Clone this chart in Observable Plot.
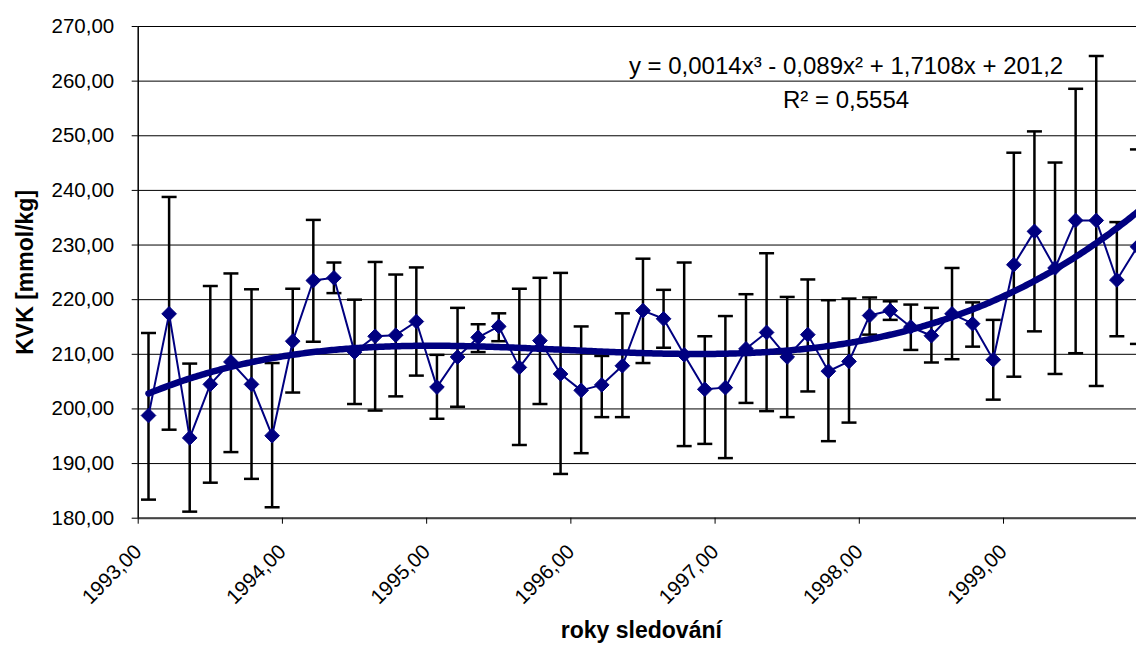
<!DOCTYPE html>
<html><head><meta charset="utf-8">
<script src="https://cdn.jsdelivr.net/npm/d3@7"></script>
<script src="https://cdn.jsdelivr.net/npm/@observablehq/plot@0.6"></script>
<style>
html,body{margin:0;padding:0;background:#fff;}
#chart svg{display:block;}
</style>
</head><body><div id="chart"></div>
<script>
// ---- data ----
const means = [198.8, 217.4, 194.7, 204.5, 208.6, 204.5, 195.1, 212.4, 223.5, 224.0,
               210.4, 213.3, 213.5, 216.0, 204.0, 209.5, 213.1, 215.1, 207.6, 212.5,
               206.4, 203.4, 204.4, 207.9, 218.0, 216.5, 209.9, 203.6, 203.9, 211.0,
               214.0, 209.5, 213.6, 206.9, 208.7, 217.1, 218.0, 215.0, 213.4, 217.4,
               215.6, 209.0, 226.4, 232.5, 225.8, 234.5, 234.5, 223.6, 229.7];
const upper = [213.9, 238.8, 208.3, 222.5, 224.8, 221.9, 208.4, 222.0, 234.6, 226.8,
               220.0, 226.9, 224.6, 225.9, 209.9, 218.5, 215.5, 217.5, 222.0, 224.0,
               224.9, 215.1, 209.7, 217.5, 227.5, 221.8, 226.8, 213.3, 217.0, 221.0,
               228.5, 220.5, 223.7, 219.9, 220.2, 220.4, 219.7, 219.1, 218.5, 225.8,
               219.5, 216.3, 246.9, 250.8, 245.1, 258.6, 264.6, 234.2, 247.5];
const lower = [183.4, 196.2, 181.2, 186.5, 192.1, 187.2, 182.0, 203.0, 212.3, 221.2,
               200.9, 199.7, 202.3, 206.1, 198.2, 200.4, 210.4, 212.4, 193.4, 200.9,
               188.1, 191.9, 198.5, 198.5, 208.4, 211.2, 193.2, 193.6, 191.0, 201.1,
               199.6, 198.5, 203.2, 194.1, 197.5, 213.6, 216.3, 210.8, 208.5, 209.1,
               211.4, 201.7, 205.9, 214.2, 206.4, 210.2, 204.2, 213.3, 211.9];
const samplesPerYear = 7;
const startYear = 1993;
const xTickYears = [1993, 1994, 1995, 1996, 1997, 1998, 1999];
const yTicks = [180, 190, 200, 210, 220, 230, 240, 250, 260, 270];
// trendline shown in the chart: y = 0,0014x^3 - 0,089x^2 + 1,7108x + 201,2 (x = sample number)
const trendCoef = [0.0014, -0.089, 1.7108, 201.2];
const equationText = "y = 0,0014x³ - 0,089x² + 1,7108x + 201,2";
const r2Text = "R² = 0,5554";
const yTitle = "KVK [mmol/kg]";
const xTitle = "roky sledování";

// ---- build tables ----
const toYear = i => startYear + (i - 0.5) / samplesPerYear;
const data = means.map((m, k) => ({n: k + 1, x: toYear(k + 1), mean: m, hi: upper[k], lo: lower[k]}));
const trend = d3.range(1, means.length + 0.6, 0.1).map(n => ({
  x: toYear(n),
  y: trendCoef[0] * n ** 3 + trendCoef[1] * n ** 2 + trendCoef[2] * n + trendCoef[3]
}));
const fmt = v => v.toFixed(2).replace(".", ",");

const capSymbol = {
  draw(ctx, size) {
    const w = Math.sqrt(size / Math.PI);
    ctx.moveTo(-w, 0);
    ctx.lineTo(w, 0);
  }
};
const navy = "#000080";

const chart = Plot.plot({
  width: 1136,
  height: 645,
  marginTop: 26,
  marginBottom: 127.3,
  marginLeft: 137.7,
  marginRight: 0,
  style: {fontFamily: "'Liberation Sans', Arial, sans-serif", background: "#fff", color: "#000"},
  x: {domain: [1993, 1999.922], label: null},
  y: {domain: [180, 270], label: null},
  marks: [
    Plot.gridY(yTicks, {stroke: "#000", strokeOpacity: 1, strokeWidth: 1}),
    Plot.ruleY([180], {stroke: "#444", strokeWidth: 2}),
    Plot.ruleX([1993], {y1: 180, y2: 270, stroke: "#000", strokeWidth: 1.5}),
    Plot.axisY({ticks: yTicks, tickFormat: fmt, tickSize: 6, tickPadding: 18, fontSize: 20.5, label: null, stroke: "#000"}),
    Plot.axisX({ticks: xTickYears, tickFormat: fmt, tickSize: 6, tickPadding: 24, tickRotate: -45, fontSize: 20.5, label: null, stroke: "#000"}),
    Plot.ruleX(data, {x: "x", y1: "lo", y2: "hi", stroke: "#000", strokeWidth: 2.5}),
    Plot.dot(data, {x: "x", y: "hi", symbol: capSymbol, r: 7.5, stroke: "#000", strokeWidth: 2.5}),
    Plot.dot(data, {x: "x", y: "lo", symbol: capSymbol, r: 7.5, stroke: "#000", strokeWidth: 2.5}),
    Plot.line(trend, {x: "x", y: "y", stroke: navy, strokeWidth: 6.5}),
    Plot.line(data, {x: "x", y: "mean", stroke: navy, strokeWidth: 2}),
    Plot.dot(data, {x: "x", y: "mean", symbol: "diamond2", r: 6.6, fill: navy, stroke: navy, strokeWidth: 1}),
    Plot.text([equationText], {x: 1997.908, y: 262.8, fontSize: 24, fill: "#000", textAnchor: "middle"}),
    Plot.text([r2Text], {x: 1997.908, y: 256.55, fontSize: 24, fill: "#000", textAnchor: "middle"}),
    Plot.text([yTitle], {frameAnchor: "left", dx: -113, rotate: -90, textAnchor: "middle", lineAnchor: "middle", fontSize: 23, fontWeight: "bold", fill: "#000"}),
    Plot.text([xTitle], {frameAnchor: "bottom", dx: 4, dy: 120, textAnchor: "middle", fontSize: 23, fontWeight: "bold", fill: "#000"})
  ]
});
document.getElementById("chart").append(chart);
</script>
</body></html>
